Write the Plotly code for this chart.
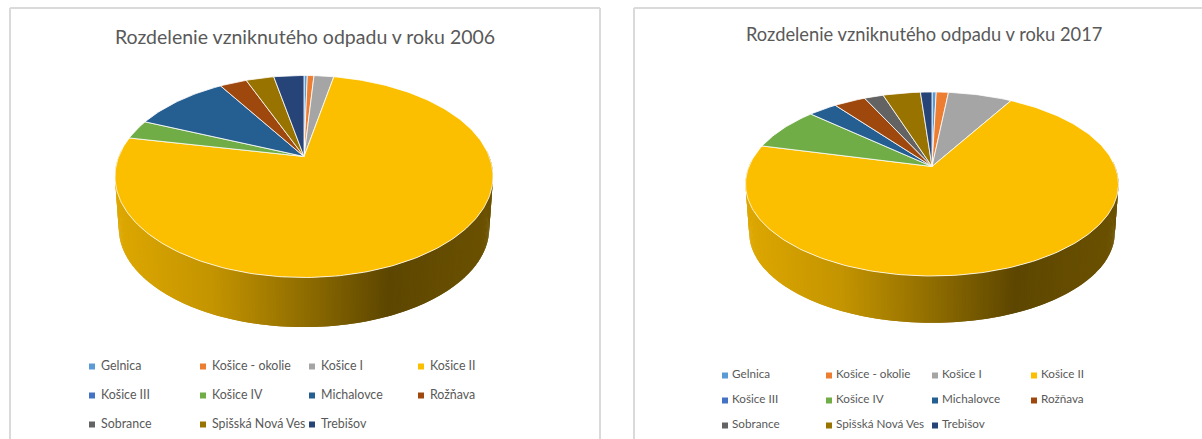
import math
import plotly.graph_objects as go

categories = ["Gelnica", "Košice - okolie", "Košice I", "Košice II", "Košice III", "Košice IV",
              "Michalovce", "Rožňava", "Sobrance", "Spišská Nová Ves", "Trebišov"]
values_2006 = [0.34, 0.69, 2.05, 75.1, 0.0, 3.1, 9.9, 2.8, 0.0, 2.9, 3.12]
values_2017 = [0.44, 1.27, 6.66, 70.53, 0.0, 7.7, 3.0, 3.3, 2.0, 3.9, 1.2]
title_2006 = "Rozdelenie vzniknutého odpadu v roku 2006"
title_2017 = "Rozdelenie vzniknutého odpadu v roku 2017"

colors = ["#5B9BD5", "#ED7D31", "#A5A5A5", "#FCBF00", "#4472C4", "#70AD47",
          "#255E91", "#9E480E", "#636363", "#997300", "#264478"]
TEXT = "#595959"
FONT = "Lato"


def projector(cx, cy, up, down, half_w):
    c = 2 / (1 / up + 1 / down)
    k = c / up - 1
    A = half_w * math.sqrt(1 - k * k)

    def rim(frac):
        t = 2 * math.pi * frac
        u, v = math.sin(t), math.cos(t)
        d = 1 + k * v
        return cx + A * u / d, cy - c * v / d
    return rim


def lerp_shade(s):
    stops = [(0, .88), (.25, .78), (.5, .57), (.72, .37), (1, .43)]
    for (a, va), (b, vb) in zip(stops, stops[1:]):
        if s <= b:
            return va + (vb - va) * (s - a) / (b - a)
    return stops[-1][1]


def add_pie(fig, values, cx, cy, up, down, half_w, depth, shrink):
    rim = projector(cx, cy, up, down, half_w)
    total = sum(values)

    def low(f):
        x, y = rim(f)
        return cx + (x - cx) * shrink, cy + (y - cy) * shrink + depth

    # side wall: overlapping strips under the slices, shaded left to right
    n = 240
    base = (0xFC, 0xBF, 0x00)
    for i in range(n):
        f0 = .24 + (.76 - .24) * i / n
        f1 = .24 + (.76 - .24) * (i + 2) / n
        xa, ya = rim(f0)
        xb, yb = rim(f1)
        xc, yc = low(f1)
        xd, yd = low(f0)
        s = ((xa + xb) / 2 - (cx - half_w)) / (2 * half_w)
        m = lerp_shade(max(0, min(1, s)))
        col = "rgb(%d,%d,%d)" % tuple(int(b * m) for b in base)
        fig.add_trace(go.Scatter(x=[xa, xb, xc, xd, xa], y=[ya, yb, yc, yd, ya], mode="none",
                                 fill="toself", fillcolor=col,
                                 hoverinfo="skip", showlegend=False))

    # top face
    acc = 0
    for name, val, col in zip(categories, values, colors):
        if val > 0:
            steps = max(2, int(val * 3))
            fr = [(acc + val * j / steps) / total for j in range(steps + 1)]
            pts = [rim(f) for f in fr]
            xs = [cx] + [p[0] for p in pts] + [cx]
            ys = [cy] + [p[1] for p in pts] + [cy]
            fig.add_trace(go.Scatter(x=xs, y=ys, mode="lines", fill="toself", fillcolor=col,
                                     line=dict(color="rgba(255,255,255,0.8)", width=1),
                                     name=name, hoverinfo="name", showlegend=False))
        acc += val


def add_legend(fig, col_x, row_y, size, gap):
    for i, (name, col) in enumerate(zip(categories, colors)):
        x, y = col_x[i % 4], row_y[i // 4]
        fig.add_trace(go.Scatter(x=[x], y=[y], mode="markers",
                                 marker=dict(symbol="square", size=6, color=col),
                                 hoverinfo="skip", showlegend=False))
        fig.add_trace(go.Scatter(x=[x + gap], y=[y], mode="text", text=[name], textposition="middle right",
                                 textfont=dict(family=FONT, size=size, color=TEXT),
                                 hoverinfo="skip", showlegend=False))


fig = go.Figure()
add_pie(fig, values_2006, 304, 156.5, 81, 121, 189, 52, .98)
add_pie(fig, values_2017, 932, 166.5, 74.5, 109.5, 186.5, 49, .98)
add_legend(fig, [92, 203, 312, 421], [366.5, 395.5, 424.5], 12.4, 9)
add_legend(fig, [725, 829, 935, 1034], [375.5, 400.5, 425.5], 11.7, 7)

border = dict(color="#DADADA", width=2)
shapes = [
    dict(type="line", x0=10, x1=10, y0=8, y1=439, line=border),
    dict(type="line", x0=600, x1=600, y0=8, y1=439, line=border),
    dict(type="line", x0=10, x1=600, y0=8, y1=8, line=border),
    dict(type="line", x0=634, x1=634, y0=8, y1=439, line=border),
    dict(type="line", x0=634, x1=1202, y0=8, y1=8, line=border),
]
annotations = [
    dict(x=304.5, y=36, text=title_2006, showarrow=False, xanchor="center", yanchor="middle",
         font=dict(family=FONT, size=19.5, color=TEXT)),
    dict(x=923.5, y=33.5, text=title_2017, showarrow=False, xanchor="center", yanchor="middle",
         font=dict(family=FONT, size=18.3, color=TEXT)),
]
fig.update_layout(width=1202, height=439, margin=dict(l=0, r=0, t=0, b=0),
                  paper_bgcolor="white", plot_bgcolor="white", showlegend=False,
                  shapes=shapes, annotations=annotations,
                  xaxis=dict(visible=False, range=[0, 1202], fixedrange=True),
                  yaxis=dict(visible=False, range=[439, 0], fixedrange=True))
fig.write_html("out.html", config=dict(displayModeBar=False),
               post_script="document.body.style.margin='0';document.body.style.overflow='hidden';")
